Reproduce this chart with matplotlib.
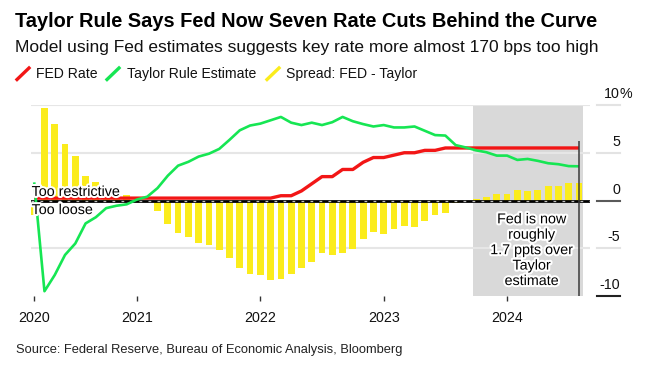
import matplotlib
matplotlib.use("Agg")
import matplotlib.pyplot as plt
import matplotlib.patheffects as pe
from matplotlib.lines import Line2D
import numpy as np
import pandas as pd

plt.rcParams['font.family'] = ['Liberation Sans', 'DejaVu Sans']

# ---- data (monthly, Mar 2020 - Aug 2024) ----
dates = pd.date_range("2020-03-01", "2024-08-01", freq="MS")

fed_rate = [0.25] * 22 + [0.25, 0.25, 0.5, 0.5, 1.0, 1.75, 2.5, 2.5, 3.25, 3.25, 4.0, 4.5,
                          4.5, 4.75, 5.0, 5.0, 5.25, 5.25] + [5.5] * 14

taylor = [1.9, -9.5, -7.8, -5.7, -4.5, -2.4, -1.75, -0.8, -0.55, -0.4,
          0.1, 0.4, 1.3, 2.6, 3.65, 4.05, 4.6, 4.9, 5.4, 6.35, 7.35, 7.85,
          8.05, 8.4, 8.75, 8.15, 7.9, 8.15, 7.9, 8.2, 8.75, 8.3, 8.0, 7.75,
          7.9, 7.65, 7.65, 7.75, 7.3, 6.85, 6.8, 5.8, 5.55, 5.25, 5.05, 4.7,
          4.7, 4.25, 4.35, 4.15, 3.9, 3.8, 3.6, 3.58]

spread = [-1.5, 9.65, 8.0, 5.9, 4.7, 2.6, 1.9, 1.1, 0.8, 0.6,
          0.15, -0.15, -1.05, -2.5, -3.4, -3.8, -4.4, -4.7, -5.2, -6.0, -7.1, -7.7,
          -7.85, -8.3, -8.2, -7.7, -7.05, -6.45, -5.5, -5.7, -5.5, -5.1, -4.0, -3.3,
          -3.5, -2.95, -2.7, -2.8, -2.1, -1.55, -1.3, -0.3, -0.05, 0.17, 0.38, 0.7,
          0.7, 1.1, 1.0, 1.15, 1.5, 1.55, 1.8, 1.8]

year_ticks = ["2020", "2021", "2022", "2023", "2024"]
y_ticks = [10, 5, 0, -5, -10]

# month index (Jan 2020 = 0)
x = np.array([(d.year - 2020) * 12 + d.month - 1 for d in dates])
tick_pos = [x[0], 12, 24, 36, 48]

RED = '#f21616'
GREEN = '#16e653'
YELLOW = '#fbec1c'

W, H = 658, 368
fig = plt.figure(figsize=(W / 100, H / 100), dpi=100)


def fx(px):
    return px / W


def fy(py):
    return 1 - py / H


ax = fig.add_axes([fx(31), fy(296), (590 - 31) / W, (296 - 105) / H])
ax.set_xlim(1.69, 56.07)
ax.set_ylim(-10, 10)
for s in ax.spines.values():
    s.set_visible(False)

# shaded recent period
ax.axvspan(44.65, 55.35, color='#d9d9d9', zorder=0, lw=0)

# gridlines
for v in [10, 5, -5]:
    ax.axhline(v, color='#e6e6e6', lw=1.5, zorder=1)

ax.bar(x, spread, width=0.66, color=YELLOW, zorder=2)

ax.axhline(0, color='black', lw=2, zorder=3)
ax.axhline(0, color='#bdbdbd', lw=0.9, dashes=(2.2, 5), zorder=3.1)

ax.plot(x, fed_rate, color=RED, lw=2.4, zorder=4, solid_capstyle='butt')
ax.plot(x, taylor, color=GREEN, lw=1.9, zorder=5, solid_capstyle='butt')

ax.vlines(x[-1], -10, 6.25, color='#3a3a3a', lw=1.1, zorder=6)

halo = [pe.withStroke(linewidth=3, foreground='white')]
ax.text(1.75, 0.9, "Too restrictive", fontsize=10.3, va='center', ha='left',
        color='black', zorder=7, path_effects=halo)
ax.text(1.75, -1.0, "Too loose", fontsize=10.3, va='center', ha='left',
        color='black', zorder=7, path_effects=halo)

ax.text(50.4, -5.2, "Fed is now\nroughly\n1.7 ppts over\nTaylor\nestimate",
        fontsize=10.3, ha='center', va='center', linespacing=1.13,
        color='black', zorder=7, path_effects=halo)

# x ticks
ax.set_xticks(tick_pos)
ax.set_xticklabels(year_ticks)
ax.tick_params(axis='x', length=3.6, width=1, color='#333333', pad=7,
               labelsize=10.3, labelcolor='#111111')
ax.set_yticks([])

# right-side y labels with underlines
x0 = (597 - 31) / 559
x1 = (620 - 31) / 559
for v in y_ticks:
    col = '#e3e3e3'
    if v == 0:
        col = '#5a5a5a'
    if v == -10:
        col = '#222222'
    ax.add_line(Line2D([x0, x1], [v, v], transform=ax.get_yaxis_transform(),
                       color=col, lw=1.5, clip_on=False))
    ax.annotate(str(v), xy=(x1, v), xycoords=ax.get_yaxis_transform(),
                xytext=(0, 5), textcoords='offset points', ha='right',
                va='baseline', fontsize=10.3, color='#111111',
                annotation_clip=False)
ax.annotate("%", xy=(x1, 10), xycoords=ax.get_yaxis_transform(),
            xytext=(0, 5), textcoords='offset points', ha='left',
            va='baseline', fontsize=10.3, color='#111111', annotation_clip=False)

# title, subtitle
fig.text(fx(15), fy(21.7), "Taylor Rule Says Fed Now Seven Rate Cuts Behind the Curve",
         fontsize=14.4, fontweight='bold', va='center', ha='left', color='black')
fig.text(fx(15), fy(47.7),
         "Model using Fed estimates suggests key rate more almost 170 bps too high",
         fontsize=12.5, va='center', ha='left', color='#111111')

# legend
legend_items = [("FED Rate", RED, 17, 35.7), ("Taylor Rule Estimate", GREEN, 107, 126.7),
                ("Spread: FED - Taylor", YELLOW, 267, 285.5)]
for label, col, sx, tx in legend_items:
    fig.add_artist(Line2D([fx(sx), fx(sx + 12)], [fy(79.5), fy(68)], color=col, lw=2.4,
                          transform=fig.transFigure))
    fig.text(fx(tx), fy(73.7), label, fontsize=10.1, va='center', ha='left', color='#111111')

fig.text(fx(16), fy(350), "Source: Federal Reserve, Bureau of Economic Analysis, Bloomberg",
         fontsize=9.3, va='center', ha='left', color='#222222')

fig.savefig("out.png", dpi=100)
